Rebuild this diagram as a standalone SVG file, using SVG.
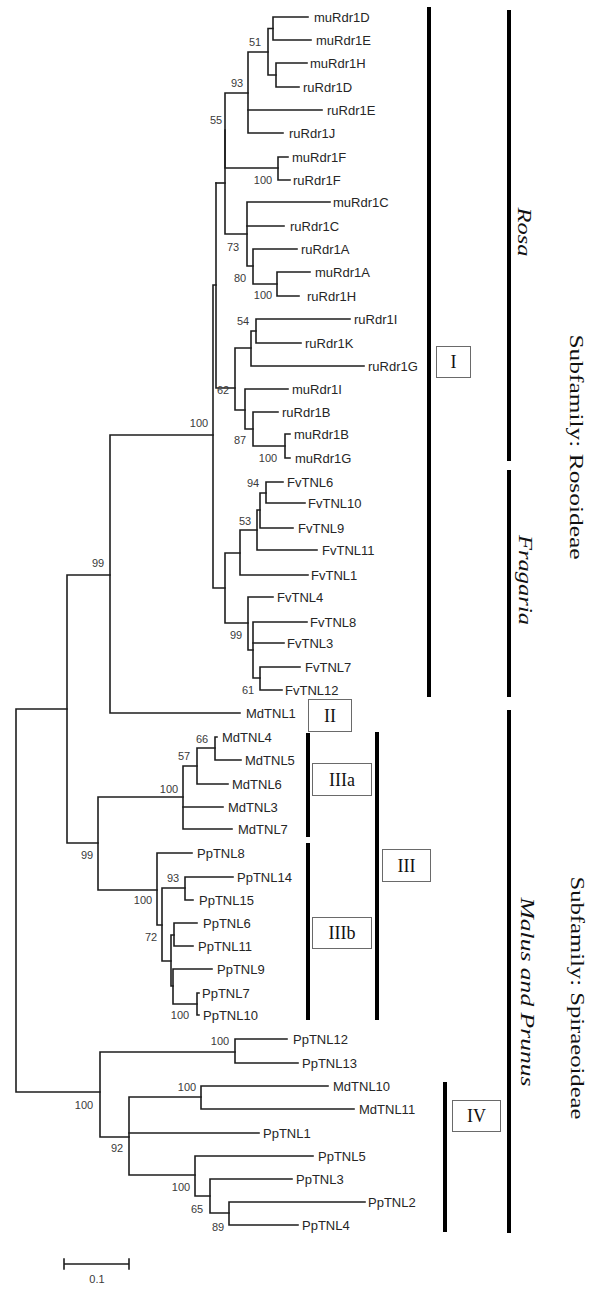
<svg xmlns="http://www.w3.org/2000/svg" width="600" height="1289" viewBox="0 0 600 1289">
<style>
.br{fill:none;stroke:#1e1e1e;stroke-width:1.6;stroke-linecap:square}
.lf{font-family:"Liberation Sans",Arial,sans-serif;font-size:13px;fill:#262626}
.bs{font-family:"Liberation Sans",Arial,sans-serif;font-size:11px;fill:#3a3a3a;text-anchor:middle}
.bar{fill:#000}
.box{fill:#fff;stroke:#6a6a6a;stroke-width:1}
.bt{font-family:"Liberation Serif","Times New Roman",serif;font-size:18px;fill:#111;text-anchor:middle}
.rt{font-family:"Liberation Serif","Times New Roman",serif;font-size:18px;fill:#111;text-anchor:middle}
.it{font-style:italic}
</style>
<rect width="600" height="1289" fill="#fff"/>
<g id="connectors">
<path class="br" d="M308,17 H273 V40 H311"/>
<path class="br" d="M307,63 H276 V87 H299"/>
<path class="br" d="M273,28.5 H268 V75 H276"/>
<path class="br" d="M268,52 H248 V133 H283"/>
<path class="br" d="M248,110 H322"/>
<path class="br" d="M288,157 H278 V180 H290"/>
<path class="br" d="M248,93 H225 V168 H278"/>
<path class="br" d="M330,202 H247 V266 H253"/>
<path class="br" d="M247,226 H284"/>
<path class="br" d="M297,249 H253 V284 H277"/>
<path class="br" d="M310,272 H277 V296 H299"/>
<path class="br" d="M225,130 V234 H247"/>
<path class="br" d="M216,183 H225"/>
<path class="br" d="M216,183 V388 H235"/>
<path class="br" d="M251,348 H235 V410 H245"/>
<path class="br" d="M350,319 H256 V343 H301"/>
<path class="br" d="M256,331 H251 V366 H364"/>
<path class="br" d="M288,389 H245 V429 H253"/>
<path class="br" d="M278,412 H253 V446 H285"/>
<path class="br" d="M290,434 H285 V458 H290"/>
<path class="br" d="M216,285 H213 V588 H225"/>
<path class="br" d="M283,482 H266 V503 H305"/>
<path class="br" d="M266,493 H260 V528 H293"/>
<path class="br" d="M260,510 H257 V550 H317"/>
<path class="br" d="M257,530 H240 V575 H308"/>
<path class="br" d="M273,597 H248 V650 H253"/>
<path class="br" d="M307,622 H253 V678 H260"/>
<path class="br" d="M253,643 H284"/>
<path class="br" d="M300,667 H260 V690 H282"/>
<path class="br" d="M240,553 H225 V623 H248"/>
<path class="br" d="M213,435 H110 V713 H240"/>
<path class="br" d="M110,575 H67 V843 H98"/>
<path class="br" d="M67,709 H16 V1092 H100"/>
<path class="br" d="M183,797 H98 V890 H157"/>
<path class="br" d="M197,766 H183 V829 H232"/>
<path class="br" d="M183,807 H223"/>
<path class="br" d="M215,748 H197 V784 H228"/>
<path class="br" d="M217,737 H215 V760 H241"/>
<path class="br" d="M192,853 H157 V925 H162"/>
<path class="br" d="M185,888 H162 V961 H171"/>
<path class="br" d="M233,877 H185 V900 H193"/>
<path class="br" d="M174,935 H171 V986 H173"/>
<path class="br" d="M197,923 H174 V946 H193"/>
<path class="br" d="M212,969 H173 V1004 H197"/>
<path class="br" d="M199,993 H197 V1015 H199"/>
<path class="br" d="M235,1052 H100 V1137 H129"/>
<path class="br" d="M287,1039 H235 V1063 H298"/>
<path class="br" d="M201,1097 H129 V1175 H195"/>
<path class="br" d="M129,1133 H259"/>
<path class="br" d="M328,1086 H201 V1109 H354"/>
<path class="br" d="M313,1156 H195 V1196 H210"/>
<path class="br" d="M292,1179 H210 V1213 H229"/>
<path class="br" d="M365,1202 H229 V1225 H298"/>
</g>
<g id="leaves">
<text id="muRdr1D" class="lf" x="314" y="21.6">muRdr1D</text>
<text id="muRdr1E" class="lf" x="316" y="44.6">muRdr1E</text>
<text id="muRdr1H" class="lf" x="310" y="67.6">muRdr1H</text>
<text id="ruRdr1D" class="lf" x="303" y="91.6">ruRdr1D</text>
<text id="ruRdr1E" class="lf" x="327" y="114.6">ruRdr1E</text>
<text id="ruRdr1J" class="lf" x="289" y="137.6">ruRdr1J</text>
<text id="muRdr1F" class="lf" x="292" y="161.6">muRdr1F</text>
<text id="ruRdr1F" class="lf" x="293" y="184.6">ruRdr1F</text>
<text id="muRdr1C" class="lf" x="333" y="206.6">muRdr1C</text>
<text id="ruRdr1C" class="lf" x="290" y="230.6">ruRdr1C</text>
<text id="ruRdr1A" class="lf" x="301" y="253.6">ruRdr1A</text>
<text id="muRdr1A" class="lf" x="315" y="276.6">muRdr1A</text>
<text id="ruRdr1H" class="lf" x="307" y="300.6">ruRdr1H</text>
<text id="ruRdr1I" class="lf" x="354" y="323.6">ruRdr1I</text>
<text id="ruRdr1K" class="lf" x="305" y="347.6">ruRdr1K</text>
<text id="ruRdr1G" class="lf" x="368" y="370.6">ruRdr1G</text>
<text id="muRdr1I" class="lf" x="292" y="393.6">muRdr1I</text>
<text id="ruRdr1B" class="lf" x="282" y="416.6">ruRdr1B</text>
<text id="muRdr1B" class="lf" x="294" y="438.6">muRdr1B</text>
<text id="muRdr1G" class="lf" x="295" y="462.6">muRdr1G</text>
<text id="FvTNL6" class="lf" x="287" y="486.6">FvTNL6</text>
<text id="FvTNL10" class="lf" x="308" y="507.6">FvTNL10</text>
<text id="FvTNL9" class="lf" x="298" y="532.6">FvTNL9</text>
<text id="FvTNL11" class="lf" x="322" y="554.6">FvTNL11</text>
<text id="FvTNL1" class="lf" x="311" y="579.6">FvTNL1</text>
<text id="FvTNL4" class="lf" x="277" y="601.6">FvTNL4</text>
<text id="FvTNL8" class="lf" x="310" y="626.6">FvTNL8</text>
<text id="FvTNL3" class="lf" x="287" y="647.6">FvTNL3</text>
<text id="FvTNL7" class="lf" x="305" y="671.6">FvTNL7</text>
<text id="FvTNL12" class="lf" x="285" y="694.6">FvTNL12</text>
<text id="MdTNL1" class="lf" x="246" y="717.6">MdTNL1</text>
<text id="MdTNL4" class="lf" x="222" y="741.6">MdTNL4</text>
<text id="MdTNL5" class="lf" x="245" y="764.6">MdTNL5</text>
<text id="MdTNL6" class="lf" x="232" y="788.6">MdTNL6</text>
<text id="MdTNL3" class="lf" x="228" y="811.6">MdTNL3</text>
<text id="MdTNL7" class="lf" x="238" y="833.6">MdTNL7</text>
<text id="PpTNL8" class="lf" x="197" y="857.6">PpTNL8</text>
<text id="PpTNL14" class="lf" x="237" y="881.6">PpTNL14</text>
<text id="PpTNL15" class="lf" x="199" y="904.6">PpTNL15</text>
<text id="PpTNL6" class="lf" x="203" y="927.6">PpTNL6</text>
<text id="PpTNL11" class="lf" x="198" y="950.6">PpTNL11</text>
<text id="PpTNL9" class="lf" x="217" y="973.6">PpTNL9</text>
<text id="PpTNL7" class="lf" x="202" y="997.6">PpTNL7</text>
<text id="PpTNL10" class="lf" x="203" y="1019.6">PpTNL10</text>
<text id="PpTNL12" class="lf" x="293" y="1043.6">PpTNL12</text>
<text id="PpTNL13" class="lf" x="302" y="1067.6">PpTNL13</text>
<text id="MdTNL10" class="lf" x="333" y="1090.6">MdTNL10</text>
<text id="MdTNL11" class="lf" x="359" y="1113.6">MdTNL11</text>
<text id="PpTNL1" class="lf" x="263" y="1137.6">PpTNL1</text>
<text id="PpTNL5" class="lf" x="318" y="1160.6">PpTNL5</text>
<text id="PpTNL3" class="lf" x="296" y="1183.6">PpTNL3</text>
<text id="PpTNL2" class="lf" x="368" y="1206.6">PpTNL2</text>
<text id="PpTNL4" class="lf" x="302" y="1229.6">PpTNL4</text>
</g>
<g id="bootstrap">
<text class="bs" x="255" y="46">51</text>
<text class="bs" x="237" y="87">93</text>
<text class="bs" x="216" y="124">55</text>
<text class="bs" x="263" y="184">100</text>
<text class="bs" x="233" y="251">73</text>
<text class="bs" x="240" y="282">80</text>
<text class="bs" x="263" y="299">100</text>
<text class="bs" x="243" y="325">54</text>
<text class="bs" x="223" y="394">62</text>
<text class="bs" x="199" y="427">100</text>
<text class="bs" x="240" y="444">87</text>
<text class="bs" x="268" y="462">100</text>
<text class="bs" x="253" y="487">94</text>
<text class="bs" x="245" y="525">53</text>
<text class="bs" x="98" y="567">99</text>
<text class="bs" x="236" y="639">99</text>
<text class="bs" x="248" y="694">61</text>
<text class="bs" x="202" y="743">66</text>
<text class="bs" x="184" y="760">57</text>
<text class="bs" x="169" y="793">100</text>
<text class="bs" x="87" y="859">99</text>
<text class="bs" x="173" y="882">93</text>
<text class="bs" x="143" y="904">100</text>
<text class="bs" x="151" y="941">72</text>
<text class="bs" x="180" y="1019">100</text>
<text class="bs" x="220" y="1045">100</text>
<text class="bs" x="187" y="1091">100</text>
<text class="bs" x="84" y="1109">100</text>
<text class="bs" x="117" y="1152">92</text>
<text class="bs" x="181" y="1191">100</text>
<text class="bs" x="197" y="1213">65</text>
<text class="bs" x="218" y="1231">89</text>
</g>
<g id="clade-bars">
<rect class="bar" x="427" y="7" width="4" height="690"/>
<rect class="bar" x="507" y="10" width="4" height="451"/>
<rect class="bar" x="507" y="470" width="4" height="227"/>
<rect class="bar" x="306" y="733" width="4" height="104"/>
<rect class="bar" x="306" y="843" width="4" height="177"/>
<rect class="bar" x="375" y="732" width="4" height="288"/>
<rect class="bar" x="507" y="710" width="4" height="523"/>
<rect class="bar" x="443" y="1082" width="4" height="150"/>
</g>
<g id="box-I"><rect class="box" x="436.5" y="346.5" width="34" height="31"/><text class="bt" x="453.5" y="368">I</text></g>
<g id="box-II"><rect class="box" x="308.5" y="699.5" width="43" height="32"/><text class="bt" x="330" y="722">II</text></g>
<g id="box-IIIa"><rect class="box" x="312.5" y="763.5" width="59" height="32"/><text class="bt" x="342" y="786">IIIa</text></g>
<g id="box-III"><rect class="box" x="382.5" y="849.5" width="48" height="32"/><text class="bt" x="406.5" y="872">III</text></g>
<g id="box-IIIb"><rect class="box" x="312.5" y="917.5" width="59" height="31"/><text class="bt" x="342" y="939">IIIb</text></g>
<g id="box-IV"><rect class="box" x="452.5" y="1100.5" width="48" height="31"/><text class="bt" x="476.5" y="1122">IV</text></g>
<g id="group-labels">
<text class="rt it" transform="translate(518,232) rotate(90)" textLength="49" lengthAdjust="spacingAndGlyphs">Rosa</text>
<text class="rt it" transform="translate(519,580) rotate(90)" textLength="90" lengthAdjust="spacingAndGlyphs">Fragaria</text>
<text class="rt" transform="translate(570,447) rotate(90)" textLength="225" lengthAdjust="spacingAndGlyphs">Subfamily: Rosoideae</text>
<text class="rt it" transform="translate(521,992) rotate(90)" textLength="189" lengthAdjust="spacingAndGlyphs">Malus and Prunus</text>
<text class="rt" transform="translate(571,998) rotate(90)" textLength="243" lengthAdjust="spacingAndGlyphs">Subfamily: Spiraeoideae</text>
</g>
<g id="scale-bar">
<path class="br" d="M64,1264 H129 M64,1259 V1269 M129,1259 V1269"/>
<text class="bs" x="97" y="1283">0.1</text>
</g>
</svg>
